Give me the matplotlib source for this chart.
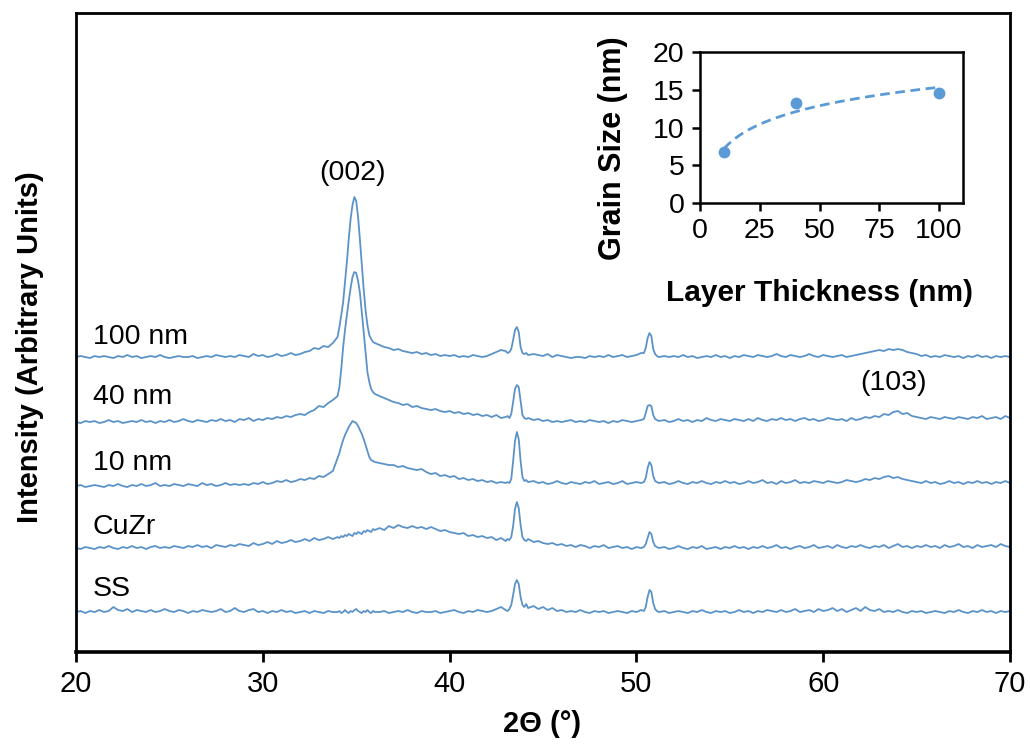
import numpy as np
import matplotlib
matplotlib.use("Agg")
import matplotlib.pyplot as plt

plt.rcParams['font.family'] = ['Liberation Sans', 'DejaVu Sans']

# 2-theta sampling (deg), denser around the peaks
two_theta = (
    [20.0, 20.25, 20.5, 20.75, 21.0, 21.25, 21.5, 21.75, 22.0, 22.25, 22.5, 22.75,
     23.0, 23.25, 23.5, 23.75, 24.0, 24.25, 24.5, 24.75, 25.0, 25.25, 25.5, 25.75,
     26.0, 26.25, 26.5, 26.75, 27.0, 27.25, 27.5, 27.75, 28.0, 28.25, 28.5, 28.75,
     29.0, 29.25, 29.5, 29.75, 30.0, 30.25, 30.5, 30.75, 31.0, 31.25, 31.5, 31.75,
     32.0, 32.25, 32.5, 32.75, 33.0, 33.25, 33.5, 33.75]
    + [34.0, 34.1, 34.2, 34.3, 34.4, 34.5, 34.6, 34.7, 34.8, 34.9, 35.0, 35.1, 35.2,
       35.3, 35.4, 35.5, 35.6, 35.7, 35.8, 35.9, 36.0]
    + [36.25, 36.5, 36.75, 37.0, 37.25, 37.5, 37.75, 38.0, 38.25, 38.5, 38.75, 39.0,
       39.25, 39.5, 39.75, 40.0, 40.25, 40.5, 40.75, 41.0, 41.25, 41.5, 41.75, 42.0,
       42.25, 42.5, 42.75]
    + [43.0, 43.1, 43.2, 43.3, 43.4, 43.5, 43.6, 43.7, 43.8, 43.9, 44.0, 44.1, 44.2]
    + [44.5, 44.75, 45.0, 45.25, 45.5, 45.75, 46.0, 46.25, 46.5, 46.75, 47.0, 47.25,
       47.5, 47.75, 48.0, 48.25, 48.5, 48.75, 49.0, 49.25, 49.5, 49.75, 50.0, 50.25]
    + [50.4, 50.5, 50.6, 50.7, 50.8, 50.9, 51.0, 51.1, 51.2]
    + [51.5, 51.75, 52.0, 52.25, 52.5, 52.75, 53.0, 53.25, 53.5, 53.75, 54.0, 54.25,
       54.5, 54.75, 55.0, 55.25, 55.5, 55.75, 56.0, 56.25, 56.5, 56.75, 57.0, 57.25,
       57.5, 57.75, 58.0, 58.25, 58.5, 58.75, 59.0, 59.25, 59.5, 59.75, 60.0, 60.25,
       60.5, 60.75, 61.0, 61.25, 61.5, 61.75, 62.0, 62.25, 62.5, 62.75, 63.0, 63.25,
       63.5, 63.75, 64.0, 64.25, 64.5, 64.75, 65.0, 65.25, 65.5, 65.75, 66.0, 66.25,
       66.5, 66.75, 67.0, 67.25, 67.5, 67.75, 68.0, 68.25, 68.5, 68.75, 69.0, 69.25,
       69.5, 69.75, 70.0]
)

# intensities (arbitrary units), same sampling as two_theta
i_100nm = (
    [5, 6, 5, 4, 6, 5, 6, 5, 4, 6, 5, 7, 5, 6, 4, 5, 6, 5, 7, 5, 4, 5, 6, 5,
     5, 6, 4, 5, 6, 5, 7, 6, 5, 6, 5, 7, 6, 5, 8, 6, 7, 5, 6, 8, 6, 7, 9, 7,
     8, 10, 11, 14, 13, 16, 15, 19]
    + [25, 35, 47, 60, 80, 100, 123, 143, 157, 165, 161, 145, 122, 97, 73, 52, 37, 27, 23, 20, 19]
    + [17, 15, 14, 12, 13, 11, 10, 9, 10, 8, 9, 7, 8, 6, 7, 6, 7, 5, 6, 5, 7, 6, 5,
       6, 8, 10, 12]
    + [11, 9, 10, 13, 22, 32, 35, 30, 15, 9, 8, 9, 7]
    + [8, 7, 6, 8, 5, 7, 6, 5, 4, 5, 5, 4, 6, 5, 6, 5, 7, 5, 6, 7, 5, 6, 7, 9]
    + [9, 14, 24, 29, 26, 13, 8, 6, 5]
    + [6, 5, 6, 5, 7, 5, 6, 4, 5, 6, 5, 7, 5, 6, 4, 6, 5, 7, 6, 5, 7, 6, 5, 6,
       8, 6, 5, 7, 6, 5, 6, 8, 6, 5, 7, 6, 5, 6, 7, 5, 6, 7, 8, 9, 10, 11, 12, 11,
       13, 12, 13, 12, 10, 9, 8, 6, 7, 5, 6, 5, 7, 6, 5, 6, 4, 6, 5, 7, 5, 6, 4, 6,
       5, 6, 5]
)

i_40nm = (
    [5, 4, 6, 5, 6, 4, 5, 7, 5, 6, 4, 5, 6, 5, 7, 5, 6, 4, 6, 5, 7, 5, 6, 8,
     6, 5, 7, 6, 5, 7, 6, 8, 6, 7, 5, 8, 7, 9, 6, 8, 7, 9, 8, 10, 9, 11, 10, 12,
     13, 12, 15, 17, 21, 20, 24, 27]
    + [31, 40, 58, 80, 97, 112, 126, 139, 150, 155, 154, 146, 134, 115, 95, 75, 55, 45, 38, 35, 33]
    + [31, 29, 27, 25, 24, 22, 23, 20, 21, 19, 18, 17, 18, 16, 15, 16, 14, 15, 13,
       14, 12, 13, 11, 12, 10, 12, 9]
    + [10, 11, 9, 13, 25, 38, 42, 40, 26, 12, 9, 8, 9]
    + [7, 8, 6, 7, 5, 6, 5, 6, 7, 5, 6, 5, 7, 6, 5, 6, 4, 6, 5, 7, 6, 5, 6, 7]
    + [8, 14, 21, 22, 21, 12, 8, 7, 6]
    + [7, 5, 6, 8, 6, 7, 5, 7, 6, 9, 7, 6, 8, 7, 6, 8, 7, 6, 8, 6, 9, 7, 6, 8,
       7, 9, 7, 8, 6, 8, 9, 7, 8, 6, 7, 9, 8, 7, 8, 6, 9, 7, 8, 10, 9, 11, 10, 13,
       12, 15, 16, 13, 14, 11, 10, 9, 8, 10, 9, 8, 10, 9, 8, 10, 9, 8, 10, 9, 11, 8,
       9, 10, 8, 11, 9]
)

i_10nm = (
    [5, 6, 4, 5, 6, 5, 4, 6, 5, 7, 5, 4, 6, 5, 7, 5, 6, 8, 5, 6, 5, 7, 6, 5,
     7, 6, 5, 8, 6, 7, 5, 6, 8, 6, 7, 6, 7, 6, 8, 7, 9, 7, 8, 10, 9, 11, 9, 10,
     12, 11, 13, 12, 15, 14, 17, 20]
    + [33, 38, 45, 51, 56, 60, 64, 67, 70, 69, 68, 65, 61, 57, 52, 46, 40, 34, 31, 30, 29]
    + [28, 27, 26, 26, 24, 25, 23, 22, 21, 22, 19, 17, 18, 15, 16, 14, 15, 12, 13,
       11, 12, 10, 11, 9, 10, 8, 9]
    + [8, 9, 8, 12, 30, 50, 59, 52, 30, 14, 10, 11, 9]
    + [10, 8, 9, 7, 8, 10, 8, 7, 9, 8, 7, 9, 8, 10, 7, 8, 9, 7, 8, 10, 7, 8, 9, 8]
    + [9, 13, 23, 29, 26, 15, 10, 9, 8]
    + [9, 7, 8, 10, 8, 7, 9, 8, 10, 8, 7, 9, 8, 10, 8, 9, 7, 8, 10, 8, 9, 11, 8, 9,
       7, 10, 8, 9, 11, 8, 9, 8, 10, 9, 8, 10, 9, 8, 9, 11, 10, 9, 10, 12, 11, 13, 12, 14,
       15, 13, 14, 12, 11, 10, 9, 8, 10, 8, 9, 7, 8, 10, 8, 9, 7, 9, 8, 10, 8, 9, 7, 9,
       8, 10, 8]
)

i_cuzr = (
    [5, 4, 6, 5, 4, 6, 5, 7, 5, 4, 6, 5, 7, 5, 6, 4, 6, 7, 5, 6, 5, 7, 6, 5,
     7, 6, 8, 6, 7, 5, 8, 7, 6, 8, 7, 9, 8, 7, 10, 8, 9, 11, 9, 12, 10, 11, 13, 11,
     12, 14, 12, 15, 13, 14, 16, 14]
    + [16, 15, 17, 16, 18, 17, 19, 18, 17, 20, 19, 21, 20, 19, 22, 21, 23, 22, 21, 24, 23]
    + [25, 23, 27, 25, 28, 26, 25, 27, 25, 26, 24, 26, 24, 22, 23, 21, 20, 19, 20,
       17, 18, 16, 17, 15, 16, 13, 15]
    + [12, 14, 13, 16, 27, 44, 51, 45, 28, 16, 13, 12, 14]
    + [11, 12, 10, 9, 10, 8, 9, 7, 8, 6, 8, 7, 5, 7, 6, 8, 5, 6, 7, 5, 6, 4, 6, 5]
    + [6, 9, 15, 21, 19, 11, 7, 6, 5]
    + [6, 4, 5, 7, 5, 4, 6, 5, 7, 4, 5, 6, 4, 6, 5, 7, 5, 6, 4, 6, 5, 7, 5, 6,
       8, 5, 6, 4, 6, 7, 5, 6, 8, 5, 6, 7, 5, 8, 6, 5, 7, 6, 8, 6, 5, 7, 6, 8,
       5, 7, 9, 6, 7, 5, 7, 6, 8, 6, 7, 5, 8, 6, 7, 9, 6, 7, 5, 8, 6, 7, 8, 6,
       9, 7, 6]
)

i_ss = (
    [5, 6, 4, 6, 5, 7, 5, 6, 10, 7, 6, 8, 5, 7, 6, 5, 7, 5, 6, 8, 6, 5, 7, 6,
     4, 6, 5, 7, 6, 5, 6, 8, 5, 6, 9, 6, 5, 7, 8, 5, 6, 4, 6, 5, 7, 5, 6, 4,
     5, 6, 4, 6, 5, 4, 6, 5]
    + [5, 6, 4, 5, 7, 5, 4, 6, 5, 7, 8, 6, 5, 4, 6, 5, 7, 5, 4, 6, 5]
    + [5, 6, 4, 5, 6, 5, 7, 5, 4, 6, 5, 5, 6, 4, 5, 6, 7, 5, 4, 6, 5, 7, 6,
       5, 6, 8, 10]
    + [7, 6, 8, 12, 22, 33, 37, 33, 20, 12, 10, 13, 9]
    + [11, 8, 10, 7, 9, 6, 7, 5, 6, 5, 7, 5, 4, 6, 5, 6, 4, 5, 6, 5, 4, 6, 5, 7]
    + [6, 10, 20, 27, 25, 14, 8, 6, 5]
    + [6, 4, 5, 6, 5, 4, 6, 5, 7, 5, 4, 6, 5, 6, 4, 5, 7, 5, 6, 4, 6, 5, 7, 6,
       5, 7, 5, 6, 8, 5, 6, 7, 5, 8, 6, 7, 9, 6, 8, 5, 7, 9, 6, 10, 7, 6, 8, 5,
       6, 5, 7, 5, 4, 6, 5, 6, 4, 5, 6, 5, 4, 6, 5, 7, 5, 4, 6, 5, 7, 5, 6, 4,
       6, 5, 6]
)

samples = ["100 nm", "40 nm", "10 nm", "CuZr", "SS"]
patterns = [i_100nm, i_40nm, i_10nm, i_cuzr, i_ss]
offsets = [290, 225, 161, 99, 35]
label_y = [315, 255, 189, 125, 63]

# inset: grain size vs layer thickness
layer_thickness = [10, 40, 100]
grain_size = [6.7, 13.3, 14.6]

trace_color = "#5b93c9"
point_color = "#5b9bd5"

fig = plt.figure(figsize=(10.3, 7.45), dpi=100)
ax = fig.add_axes([0.0738, 0.1248, 0.9068, 0.8577])

for name, vals, off, ly in zip(samples, patterns, offsets, label_y):
    ax.plot(two_theta, np.array(vals) + off, color=trace_color, lw=1.3)
    ax.text(20.9, ly, name, fontsize=20.5, ha='left', va='center')

ax.text(34.78, 479, "(002)", fontsize=20.5, ha='center', va='center')
ax.text(63.74, 269, "(103)", fontsize=20.5, ha='center', va='center')

ax.set_xlim(20, 70)
ax.set_ylim(0, 639)
ax.set_yticks([])
ax.set_xticks(range(20, 71, 10))
ax.tick_params(axis='x', direction='out', length=7, width=2, labelsize=21, pad=6)
for s in ax.spines.values():
    s.set_linewidth(2)
ax.spines['bottom'].set_linewidth(2.6)

fig.text(542 / 1030, 1 - 724 / 745, "2Θ (°)", fontsize=21, fontweight='bold',
         ha='center', va='center')
fig.text(30 / 1030, 1 - 347 / 745, "Intensity (Arbitrary Units)", fontsize=21,
         fontweight='bold', rotation=90, ha='center', va='center')

# inset
axin = fig.add_axes([0.6796, 0.7275, 0.2553, 0.2027])
axin.plot(layer_thickness, grain_size, 'o', color=point_color, ms=7.5)
coef = np.polyfit(np.log(layer_thickness), grain_size, 1)
xs = np.linspace(min(layer_thickness), max(layer_thickness), 100)
axin.plot(xs, coef[0] * np.log(xs) + coef[1], color=point_color, lw=2,
          dashes=(3.5, 2))
axin.set_xlim(0, 110)
axin.set_ylim(0, 20)
axin.set_xticks([0, 25, 50, 75, 100])
axin.set_yticks([0, 5, 10, 15, 20])
axin.tick_params(direction='out', length=6, width=1.8, labelsize=20.5, pad=5)
for s in axin.spines.values():
    s.set_linewidth(1.8)

fig.text(613 / 1030, 1 - 148 / 745, "Grain Size (nm)", fontsize=22, fontweight='bold',
         rotation=90, ha='center', va='center')
fig.text(819 / 1030, 1 - 293 / 745, "Layer Thickness (nm)", fontsize=21.5,
         fontweight='bold', ha='center', va='center')

fig.savefig("out.png", dpi=100)
